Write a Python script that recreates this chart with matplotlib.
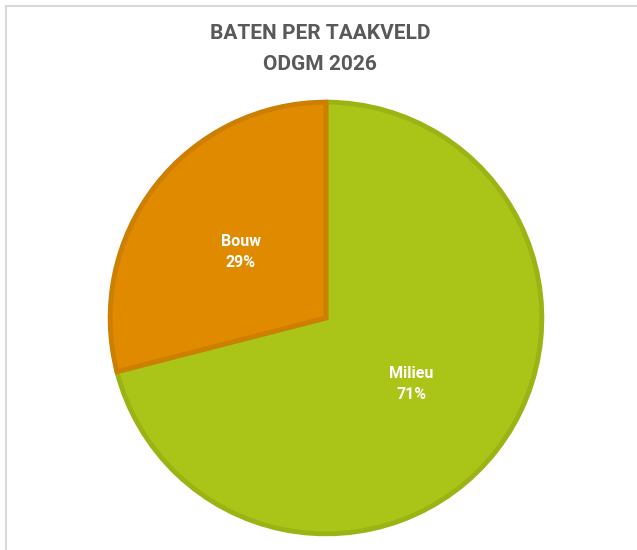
import matplotlib.pyplot as plt
from matplotlib.lines import Line2D

categories = ["Milieu", "Bouw"]
shares = [71, 29]
colors = ["#AAC417", "#E08A00"]
edge_colors = ["#9BB414", "#CC7F00"]

fig = plt.figure(figsize=(6.37, 5.5), dpi=100)
fig.patch.set_facecolor("white")

# light frame on top and left, like the cropped chart area
fig.add_artist(Line2D([6.5 / 637, 1], [1 - 5.5 / 550] * 2, color="#D9D9D9", lw=1.5))
fig.add_artist(Line2D([6.5 / 637] * 2, [0, 1 - 5.5 / 550], color="#D9D9D9", lw=1.5))

fig.text(320 / 637, 1 - 49 / 550, "BATEN PER TAAKVELD\nODGM 2026", ha="center", va="center",
         fontsize=15, fontweight="bold", color="#595959", family="Roboto", linespacing=1.75)

ax = fig.add_axes([108 / 637, 14 / 550, 436 / 637, 436 / 550])
total = sum(shares)
labels = [f"{c}\n{round(v / total * 100)}%" for c, v in zip(categories, shares)]
wedges, texts = ax.pie(shares, labels=labels, colors=colors, startangle=90, counterclock=False,
                       labeldistance=0.5, radius=1,
                       textprops=dict(color="white", fontweight="bold", fontsize=11.5,
                                      family="Roboto", ha="center", va="center", linespacing=1.55))
for w, ec in zip(wedges, edge_colors):
    w.set_edgecolor(ec)
    w.set_linewidth(3.5)
    w.set_joinstyle("miter")
ax.set_xlim(-1.01, 1.01)
ax.set_ylim(-1.01, 1.01)
ax.set_aspect("equal")

fig.savefig("out.png", dpi=100, facecolor="white")
